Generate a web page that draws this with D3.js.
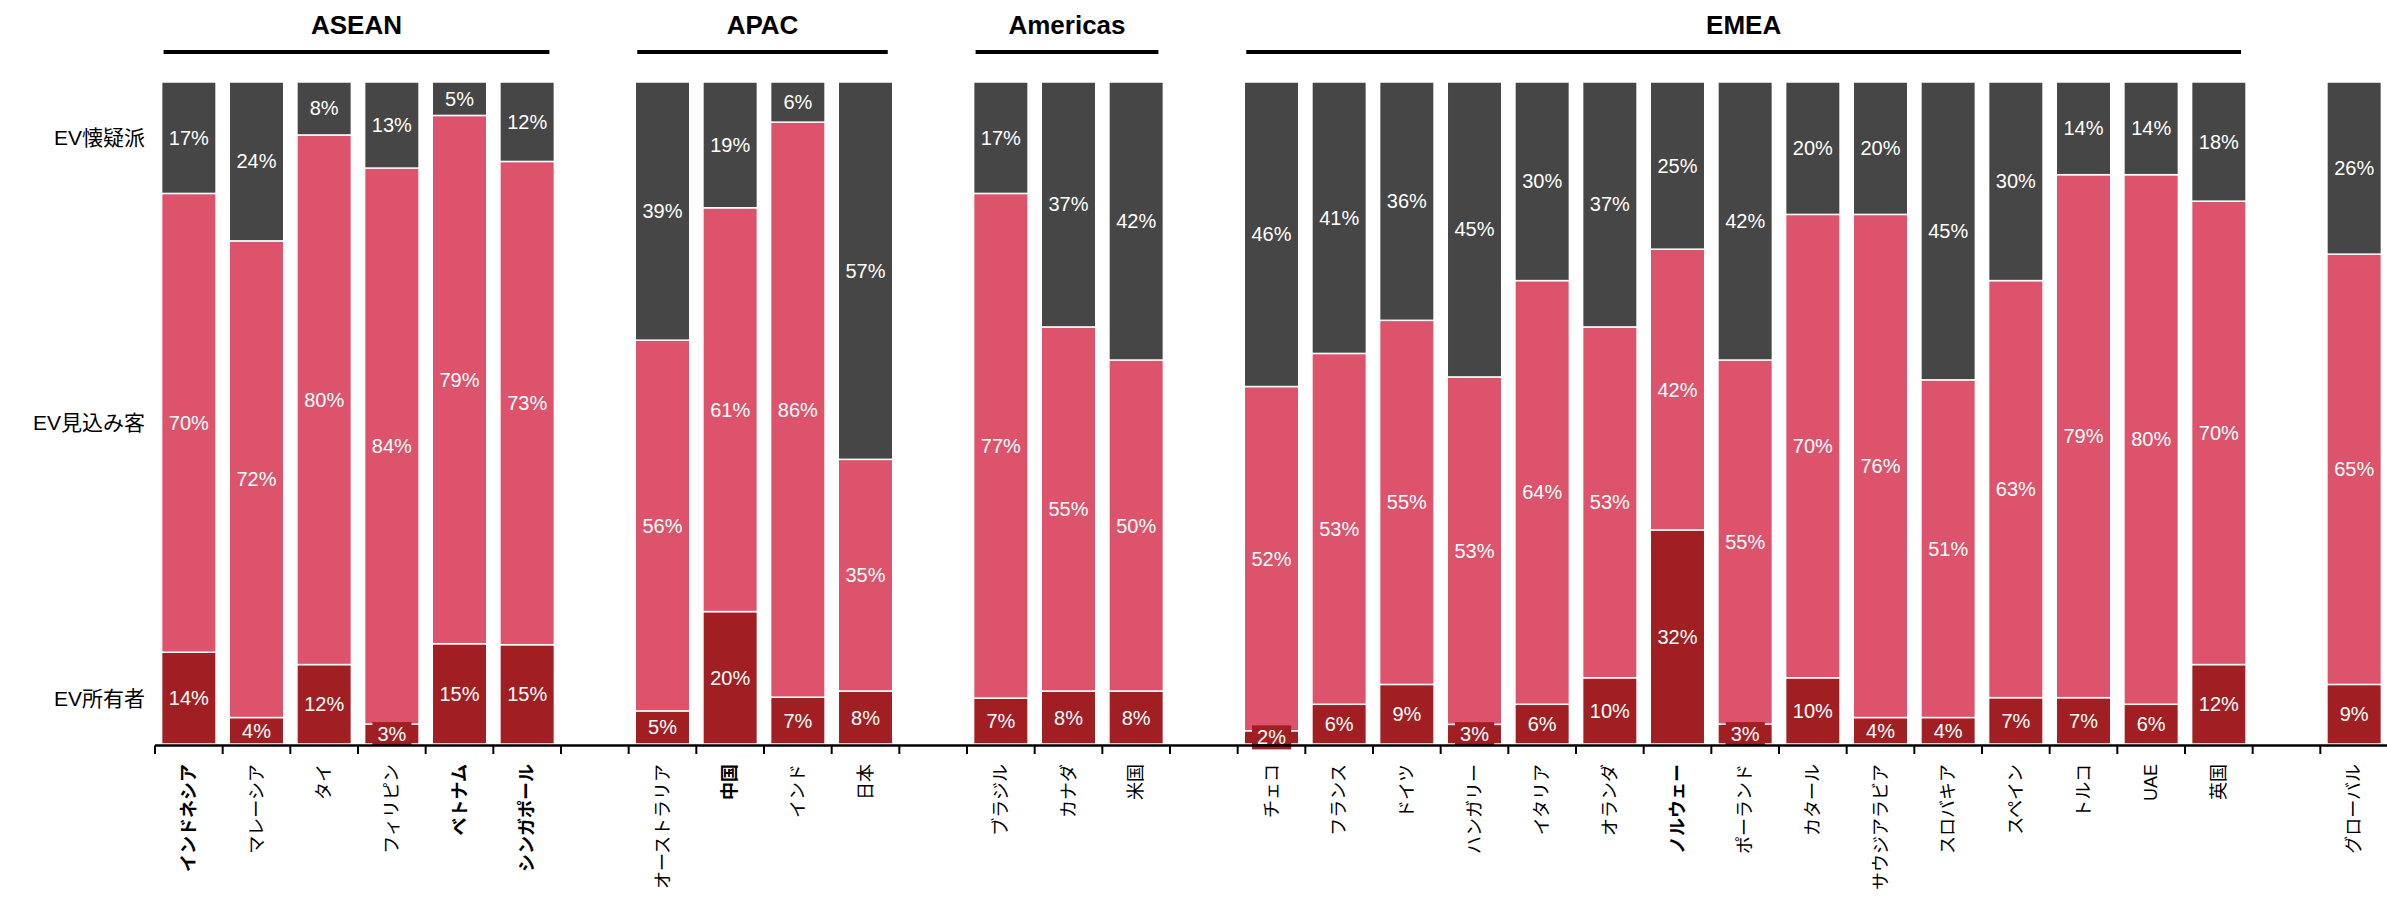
<!DOCTYPE html>
<html>
<head>
<meta charset="utf-8">
<script src="https://cdn.jsdelivr.net/npm/d3@7"></script>
<style>
  body { margin: 0; background: #fff; }
  text { font-family: "Liberation Sans", Arial, "Noto Sans CJK JP", sans-serif; }
</style>
</head>
<body>
<div id="chart"></div>
<script>
// ---- data ----
var countries = ["インドネシア", "マレーシア", "タイ", "フィリピン", "ベトナム", "シンガポール",
  "オーストラリア", "中国", "インド", "日本",
  "ブラジル", "カナダ", "米国",
  "チェコ", "フランス", "ドイツ", "ハンガリー", "イタリア", "オランダ", "ノルウェー", "ポーランド",
  "カタール", "サウジアラビア", "スロバキア", "スペイン", "トルコ", "UAE", "英国",
  "グローバル"];
var regions = ["ASEAN", "ASEAN", "ASEAN", "ASEAN", "ASEAN", "ASEAN",
  "APAC", "APAC", "APAC", "APAC",
  "Americas", "Americas", "Americas",
  "EMEA", "EMEA", "EMEA", "EMEA", "EMEA", "EMEA", "EMEA", "EMEA",
  "EMEA", "EMEA", "EMEA", "EMEA", "EMEA", "EMEA", "EMEA",
  ""];
var owners    = [14, 4, 12, 3, 15, 15, 5, 20, 7, 8, 7, 8, 8, 2, 6, 9, 3, 6, 10, 32, 3, 10, 4, 4, 7, 7, 6, 12, 9];
var prospects = [70, 72, 80, 84, 79, 73, 56, 61, 86, 35, 77, 55, 50, 52, 53, 55, 53, 64, 53, 42, 55, 70, 76, 51, 63, 79, 80, 70, 65];
var skeptics  = [17, 24, 8, 13, 5, 12, 39, 19, 6, 57, 17, 37, 42, 46, 41, 36, 45, 30, 37, 25, 42, 20, 20, 45, 30, 14, 14, 18, 26];
var boldCountries = ["インドネシア", "ベトナム", "シンガポール", "中国", "ノルウェー"];
var segments = ["EV所有者", "EV見込み客", "EV懐疑派"];
var colors = ["#a11f22", "#dc536b", "#464646"];

// ---- layout ----
var svgWidth = 2387;
var svgHeight = 903;
var plotLeft = 155, plotRight = 2388;
var plotTop = 82, plotBottom = 744;

var svg = d3.select("#chart").append("svg")
  .attr("width", svgWidth)
  .attr("height", svgHeight);

// table for the stack
var table = countries.map(function(c, i) {
  return { key: c, region: regions[i], "EV所有者": owners[i], "EV見込み客": prospects[i], "EV懐疑派": skeptics[i] };
});

// band domain with one empty slot between groups
var domain = [];
table.forEach(function(d, i) {
  if (i > 0 && d.region !== table[i - 1].region) domain.push("gap" + i);
  domain.push(d.key);
});

var x = d3.scaleBand()
  .domain(domain)
  .range([plotLeft, plotRight])
  .paddingInner(0.195)
  .paddingOuter(0.0975);

var y = d3.scaleLinear()
  .domain([0, 1])
  .range([plotBottom, plotTop]);

var stack = d3.stack().keys(segments).offset(d3.stackOffsetExpand);
var series = stack(table);

// bars
var layers = svg.append("g").selectAll("g")
  .data(series)
  .join("g")
  .attr("fill", function(s, i) { return colors[i]; });

layers.selectAll("rect")
  .data(function(s) { return s; })
  .join("rect")
  .attr("x", function(d) { return x(d.data.key); })
  .attr("width", x.bandwidth())
  .attr("y", function(d) { return y(d[1]); })
  .attr("height", function(d) { return y(d[0]) - y(d[1]); })
  .attr("stroke", "#fff")
  .attr("stroke-width", 1.5);

// value labels (small segments get a box behind the text)
var labelGroup = svg.append("g");
series.forEach(function(s, si) {
  var segKey = segments[si];
  s.forEach(function(d) {
    var cx = x(d.data.key) + x.bandwidth() / 2;
    var cy = (y(d[0]) + y(d[1])) / 2;
    var g = labelGroup.append("g");
    var t = g.append("text")
      .attr("x", cx)
      .attr("y", cy)
      .attr("text-anchor", "middle")
      .attr("dominant-baseline", "central")
      .attr("fill", "#fff")
      .attr("font-size", 20)
      .text(d.data[segKey] + "%");
    var bb = t.node().getBBox();
    if (y(d[0]) - y(d[1]) < bb.height) {
      g.insert("rect", "text")
        .attr("x", bb.x - 5)
        .attr("y", bb.y - 1)
        .attr("width", bb.width + 10)
        .attr("height", bb.height + 2)
        .attr("fill", colors[si]);
    }
  });
});

// x axis: baseline and ticks at slot boundaries
var axis = svg.append("g");
axis.append("line")
  .attr("x1", plotLeft).attr("x2", svgWidth)
  .attr("y1", plotBottom + 1.5).attr("y2", plotBottom + 1.5)
  .attr("stroke", "#000")
  .attr("stroke-width", 2.5);

var half = x.step() * x.paddingInner() / 2;
var bounds = domain.map(function(k) { return x(k) - half; });
bounds.push(x(domain[domain.length - 1]) + x.bandwidth() + half);
axis.selectAll(".tick")
  .data(bounds)
  .join("line")
  .attr("class", "tick")
  .attr("x1", function(d) { return d; })
  .attr("x2", function(d) { return d; })
  .attr("y1", plotBottom + 1.5)
  .attr("y2", plotBottom + 10)
  .attr("stroke", "#000")
  .attr("stroke-width", 2);

// rotated country labels
axis.selectAll(".xlabel")
  .data(countries)
  .join("text")
  .attr("class", "xlabel")
  .attr("transform", function(c) {
    return "translate(" + (x(c) + x.bandwidth() / 2) + "," + (plotBottom + 20) + ") rotate(-90)";
  })
  .attr("text-anchor", "end")
  .attr("dominant-baseline", "central")
  .attr("font-family", "'Noto Sans CJK JP', sans-serif")
  .attr("font-size", 18)
  .attr("font-weight", function(c) { return boldCountries.indexOf(c) >= 0 ? "bold" : "normal"; })
  .attr("fill", "#000")
  .text(function(c) { return c; });

// y labels placed at the middle of the first bar's segments
var firstKey = countries[0];
svg.append("g").selectAll("text")
  .data(series)
  .join("text")
  .attr("x", 145)
  .attr("y", function(s) {
    var d = s.find(function(e) { return e.data.key === firstKey; });
    return (y(d[0]) + y(d[1])) / 2;
  })
  .attr("text-anchor", "end")
  .attr("dominant-baseline", "central")
  .attr("font-size", 21)
  .attr("fill", "#000")
  .text(function(s) { return s.key; });

// group headers
var groupNames = ["ASEAN", "APAC", "Americas", "EMEA"];
var headers = svg.append("g").selectAll("g")
  .data(groupNames)
  .join("g");

headers.each(function(gname) {
  var members = countries.filter(function(c, i) { return regions[i] === gname; });
  var x0 = x(members[0]) + 2;
  var x1 = x(members[members.length - 1]) + x.bandwidth() - 5;
  var g = d3.select(this);
  g.append("line")
    .attr("x1", x0).attr("x2", x1)
    .attr("y1", 52).attr("y2", 52)
    .attr("stroke", "#000")
    .attr("stroke-width", 4);
  g.append("text")
    .attr("x", (x0 + x1) / 2)
    .attr("y", 34)
    .attr("text-anchor", "middle")
    .attr("font-size", 26)
    .attr("font-weight", "bold")
    .attr("fill", "#000")
    .text(gname);
});
</script>
</body>
</html>
